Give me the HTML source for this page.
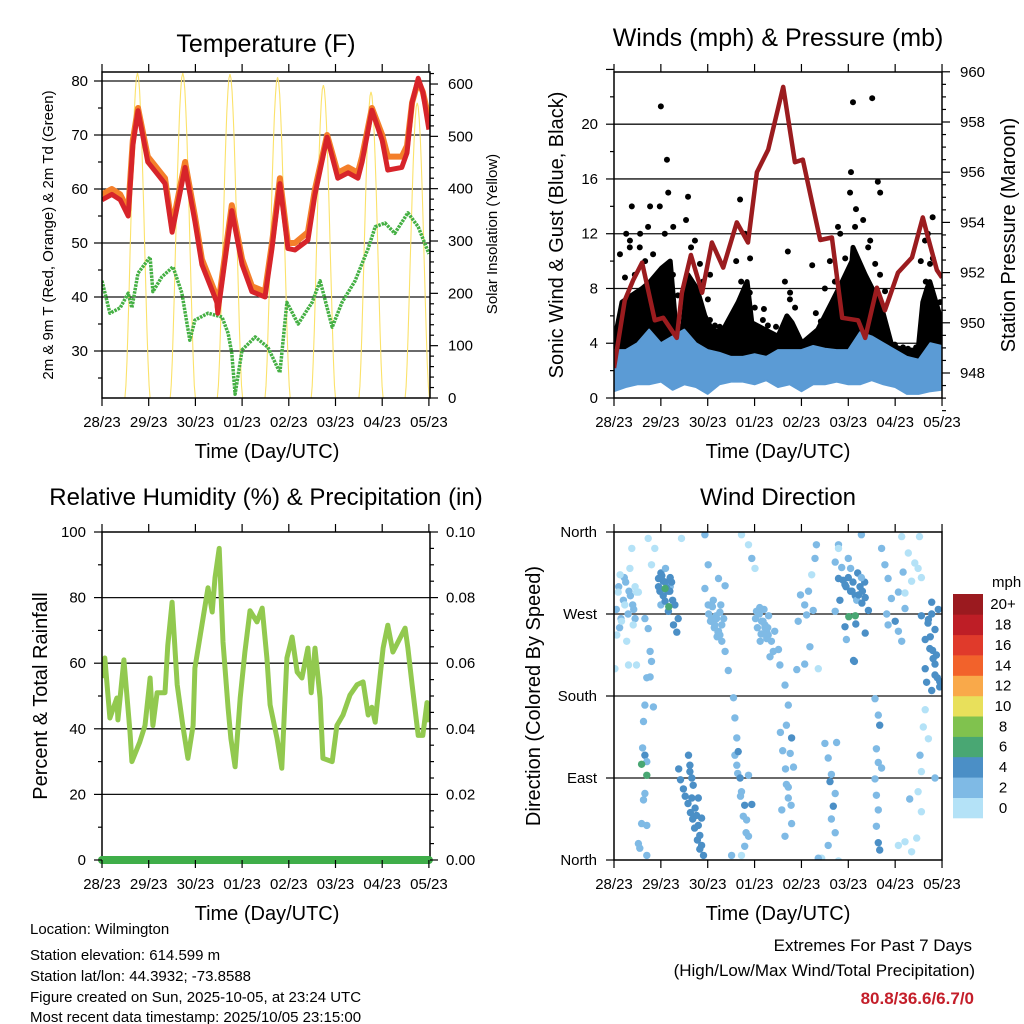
<!DOCTYPE html>
<html><head><meta charset="utf-8">
<style>
html,body{margin:0;padding:0;background:#fff}
svg{display:block;font-family:"Liberation Sans",sans-serif}
</style></head><body>
<svg id="chart" width="1024" height="1024" viewBox="0 0 1024 1024">
<defs>
<clipPath id="cp1"><rect x="102" y="72" width="328" height="326"/></clipPath>
<clipPath id="cp2"><rect x="614" y="72" width="328" height="326"/></clipPath>
<clipPath id="cp3"><rect x="102" y="532" width="328" height="328"/></clipPath>
<clipPath id="cp4"><rect x="614" y="532" width="328" height="328"/></clipPath>
</defs>
<g id="g1"></g>
<g id="g2"></g>
<g id="g3"></g>
<g id="g4"></g>

<text x="266" y="52" font-size="25" text-anchor="middle">Temperature (F)</text>
<text x="778" y="46" font-size="25" text-anchor="middle">Winds (mph) &amp; Pressure (mb)</text>
<text x="266" y="505" font-size="24" text-anchor="middle">Relative Humidity (%) &amp; Precipitation (in)</text>
<text x="778" y="505" font-size="24" text-anchor="middle">Wind Direction</text>

<text transform="translate(53,235) rotate(-90)" font-size="15" text-anchor="middle">2m &amp; 9m T (Red, Orange) &amp; 2m Td (Green)</text>
<text transform="translate(497,234) rotate(-90)" font-size="15" text-anchor="middle">Solar Insolation (Yellow)</text>
<text transform="translate(563,235) rotate(-90)" font-size="20" text-anchor="middle">Sonic Wind &amp; Gust (Blue, Black)</text>
<text transform="translate(1015,235) rotate(-90)" font-size="20" text-anchor="middle">Station Pressure (Maroon)</text>
<text transform="translate(47,696) rotate(-90)" font-size="20" text-anchor="middle">Percent &amp; Total Rainfall</text>
<text transform="translate(540,696) rotate(-90)" font-size="20" text-anchor="middle">Direction (Colored By Speed)</text>

<text x="267" y="458" font-size="20" text-anchor="middle">Time (Day/UTC)</text>
<text x="778" y="458" font-size="20" text-anchor="middle">Time (Day/UTC)</text>
<text x="267" y="920" font-size="20" text-anchor="middle">Time (Day/UTC)</text>
<text x="778" y="920" font-size="20" text-anchor="middle">Time (Day/UTC)</text>

<text x="992" y="587" font-size="15">mph</text>

<g font-size="15">
<text x="30" y="934">Location: Wilmington</text>
<text x="30" y="960">Station elevation: 614.599 m</text>
<text x="30" y="981">Station lat/lon: 44.3932; -73.8588</text>
<text x="30" y="1002">Figure created on Sun, 2025-10-05, at 23:24 UTC</text>
<text x="30" y="1022">Most recent data timestamp: 2025/10/05 23:15:00</text>
</g>
<g font-size="17" text-anchor="end">
<text x="972" y="951">Extremes For Past 7 Days</text>
<text x="975" y="976">(High/Low/Max Wind/Total Precipitation)</text>
<text x="974" y="1004" font-weight="bold" fill="#c41e2a">80.8/36.6/6.7/0</text>
</g>
</svg>
<script>
// ---------- DATA ----------
const dayLabels = ["28/23","29/23","30/23","01/23","02/23","03/23","04/23","05/23"];

const tempT = [0,0.21,0.39,0.56,0.66,0.77,0.98,1.35,1.50,1.78,1.99,2.14,2.46,2.48,2.78,3.00,3.21,3.49,3.64,3.81,3.98,4.13,4.41,4.56,4.82,5.05,5.27,5.48,5.57,5.78,6.00,6.12,6.42,6.53,6.64,6.77,6.87,7.00];
const tempRed = [58,59,58,55,68,74.5,65,61,52,64,54,46,39,37,56,46,41,40,49,61,49,48.7,50.5,59,69.6,62,63,62,65,74.6,69,63.5,64,66.7,76,80.5,78,71];
const tempOrange = [59,60,59,56,69,75,66,62,53,65,55,47,40,38,57,47,42,41,50,62,50,50,52,60,70,63,64,63,66,75,70,66,66,68,76,80,78,73];
const dewT = [0,0.17,0.39,0.56,0.64,0.77,1.03,1.09,1.28,1.52,1.71,1.88,1.99,2.27,2.57,2.70,2.78,2.85,3.00,3.28,3.55,3.81,3.96,4.20,4.50,4.67,4.93,5.14,5.42,5.70,5.85,6.06,6.27,6.55,6.77,7.00];
const dewPt = [43,37,38,40.7,38,44.4,47.4,41,43.7,45.6,40.7,32,35.7,37,36.3,33.3,29.6,22,30.2,32.6,30.7,26,39,35,39,43,34.4,39,43,49,53,53.7,51.8,55.6,53,48];
const solarPeakT = [0.76,1.73,2.74,3.76,4.74,5.76,6.75];
const solarPeak = [621,621,619,613,598,585,564];
const solarRise = [0.49,1.46,2.47,3.49,4.48,5.50,6.49];
const solarSet = [1.03,2.00,3.01,4.03,5.00,6.02,7.01];

const gustT = [0,0.17,0.38,0.60,0.77,1.02,1.20,1.30,1.45,1.58,1.77,1.94,2.09,2.30,2.65,2.84,2.94,3.22,3.50,3.69,3.80,4.01,4.35,4.65,4.87,5.08,5.10,5.36,5.51,5.72,5.93,6.21,6.49,6.59,6.68,6.74,7.00];
const gustHigh = [5.2,10.5,11,12,12.5,14,15,9,5.2,13,11.5,8.5,5.7,5.2,10,12,7.7,5.7,5.2,8.5,7.7,4.2,6.2,10,12,15,16.5,13,11.5,9,4,3.7,3.7,10,11.5,12,7];
const gustMid = [4.6,8.8,9,10,10.5,12,12.5,7.5,4.8,11,9.8,7.2,5.3,5,8.5,10.2,6.6,5.3,4.8,7.2,6.6,4.1,5.6,8.5,10.2,12.5,13.8,11,9.8,7.8,3.9,3.6,3.6,8.5,9.8,10.2,6.2];
const gustDense = [4,7,7.5,8,8.5,9.5,10,6,4.5,9,8,6,5,4.8,7,8.5,5.5,5,4.5,6,5.5,4,5,7,8.5,10,11,9,8,6.5,3.8,3.5,3.5,7,8,8.5,5.5];
const gustLow = [2.5,2.2,2.5,2.8,2.5,2.2,2.6,2.3,2.0,2.6,2.8,2.4,2.8,2.8,2.6,2.4,2.5,2.6,2.5,2.8,2.5,2.6,2.3,2.5,2.8,2.6,2.5,2.4,2.2,2.3,1.5,1.3,1.4,2.0,2.3,2.4,2.2];
const gustOutT = [1.00,5.10,5.51,0.38,1.58,3.71,4.23,5.63,5.68,2.69,0.34,0.77,4.78,0.26,1.13,2.05,3.20,4.50,6.80,0.55];
const gustOutV = [21.3,21.6,21.9,14,14.7,10.7,9.7,15.8,15,14.5,11.5,14,12.5,12,17.4,9,6.5,8,13.2,11];

const windT = [0,0.25,0.5,0.75,1,1.25,1.5,1.75,2,2.25,2.5,2.75,3,3.25,3.5,3.75,4,4.25,4.5,4.75,5,5.25,5.5,5.75,6,6.25,6.5,6.75,7];
const windHigh = [3.5,3.5,4,5,4,4.5,5,4,3.5,3.3,3,3,3.2,3,3.5,3.5,3.5,3.8,3.6,3.5,3.5,4.8,4.5,4,3.5,3,2.8,4,3.8];
const windLow = [0.5,0.8,1,1,1.2,0.6,1,0.8,0.3,1,1.2,1.2,1,1.3,0.8,1,0.5,1,1,1.2,1,1,1.3,1,0.8,0.3,0.3,0.5,0.6];

const presT = [0,0.23,0.41,0.60,0.87,1.05,1.34,1.45,1.64,1.88,2.09,2.33,2.62,2.86,3.05,3.29,3.61,3.86,4.03,4.40,4.65,4.87,5.21,5.36,5.61,5.78,6.06,6.36,6.59,6.70,6.89,7.00];
const presV = [948.2,950.9,951.7,952.4,950.1,950.2,949.4,951.2,952.7,951.2,953.2,952.2,954,953.2,956,956.9,959.4,956.4,956.5,953.3,953.4,950.2,950.1,949.4,951.4,950.5,952,952.6,954.2,953.4,952.1,951.8];

const rhT = [0,0.06,0.17,0.32,0.34,0.47,0.60,0.64,0.81,0.92,1.03,1.09,1.18,1.35,1.41,1.50,1.61,1.73,1.84,1.95,1.99,2.14,2.27,2.36,2.42,2.51,2.59,2.70,2.76,2.85,2.96,3.06,3.17,3.32,3.43,3.53,3.60,3.75,3.85,3.96,4.07,4.18,4.28,4.41,4.48,4.56,4.67,4.73,4.93,5.03,5.16,5.31,5.46,5.59,5.70,5.78,5.85,5.95,6.02,6.12,6.23,6.34,6.49,6.55,6.64,6.77,6.87,6.96,7.00];
const rhV = [55.5,61.6,43.3,49.4,42.7,61,39,30,36,41,55.5,41,51,51,65.5,78.6,53.4,41,31,41,58.5,71.6,83,75.6,86,95,66.5,46.3,37,28.4,49.4,63.4,76,72.6,76.8,61.6,47.3,37,28,61.6,68,57.3,55.5,64.6,51,64.6,49.4,31,30,41,44.2,50.3,53.4,54.3,44.2,46.6,42,55.5,64.6,71.6,63.4,66.5,70.7,64.6,53.4,38,38,48,42];
const precipT = [0,7];
const precipV = [0,0];

// wind direction points: time (days), direction (deg), speed (mph)
const dirT = [0.09,0.16,0.23,0.34,0.38,0.45,0.48,0.06,0.02,0.31,0.41,0.13,0.52,0.27,0.48,
0.95,1.05,1.12,1.19,1.09,1.02,1.23,1.30,1.16,1.37,1.34,1.27,0.98,1.17,1.09,
0.73,0.87,1.44,0.80,
0.66,0.73,0.77,0.80,0.70,0.77,0.66,0.84,0.63,0.61,0.66,0.70,0.59,0.70,0.66,0.63,0.59,0.70,0.52,0.55,0.70,
1.59,1.62,1.66,1.69,1.66,1.73,1.76,1.80,1.83,1.87,1.91,1.62,1.80,1.87,
1.94,2.01,2.08,2.15,2.23,2.30,2.37,2.08,2.26,2.19,2.44,2.01,1.94,2.23,2.37,
2.55,2.58,2.62,2.65,2.62,2.69,2.72,2.79,2.83,2.87,2.79,2.72,2.87,2.94,2.51,
2.72,2.87,2.94,3.01,
3.04,3.15,3.22,3.29,3.36,3.43,3.26,3.33,3.51,3.11,3.19,3.40,
3.54,3.65,3.72,3.68,3.79,3.76,3.83,3.68,3.72,3.58,3.79,3.65,
3.93,4.07,4.15,4.22,4.29,4.32,3.98,4.11,4.25,4.18,4.07,4.36,3.90,
4.50,4.57,4.64,4.61,4.72,4.68,4.64,4.72,4.57,4.43,4.36,4.79,4.75,
4.79,4.93,5.08,5.22,5.29,5.36,5.15,5.01,5.16,5.36,5.43,5.11,5.13,
4.79,4.86,4.89,4.82,4.72,4.93,4.96,
4.79,5.00,5.28,4.72,
5.57,5.64,5.67,5.60,5.64,5.57,5.60,5.64,5.60,5.64,5.67,5.71,
5.71,5.78,5.85,5.92,5.82,6.00,6.07,6.14,5.85,6.21,6.07,6.17,
6.14,6.28,6.42,6.49,6.35,6.56,6.21,6.52,
6.78,6.92,6.71,6.85,6.64,6.74,6.81,6.64,6.85,6.67,6.78,6.95,6.56,
6.64,6.60,6.71,6.53,6.56,6.49,6.56,6.31,6.21,6.35,6.46,6.85,6.07];
const dirD = [294,262,280,320,342,300,294,247,210,214,258,313,294,240,214,
309,306,299,295,284,312,305,280,273,265,250,258,295,278,298,
353,342,353,324,
265,254,229,218,200,201,170,168,152,123,115,108,105,93,73,66,40,38,18,13,5,
115,104,90,82,68,57,49,38,27,16,5,97,68,46,
298,280,265,258,251,240,229,280,247,265,208,324,357,309,301,
178,156,134,119,104,90,75,60,44,26,15,5,93,61,5,
357,346,331,320,
273,262,255,247,240,251,243,223,231,277,248,229,
214,192,170,148,134,117,102,83,68,55,40,26,
262,280,295,313,331,346,291,269,274,234,215,210,209,
128,112,94,86,73,59,45,30,16,2,2,-1,129,
309,302,295,291,282,288,268,267,259,249,274,219,218,
346,321,307,285,273,256,242,
342,331,357,327,
177,159,148,122,107,89,71,55,37,19,11,101,
342,324,309,287,270,262,251,240,258,276,294,316,
355,337,326,320,306,310,293,355,
283,275,264,253,242,232,221,210,203,195,186,196,268,
165,146,133,115,97,75,53,67,20,9,24,90,16];
const dirS = [1,1,1,1,1,1,1,1,1,1,1,1,1,1,1,
5,5,5,5,5,5,5,5,5,5,5,5,5,7,7,
1,1,1,1,
3,3,3,3,3,3,3,3,3,3,5,3,7,7,3,3,3,3,3,3,3,
5,5,5,5,5,5,5,5,5,5,5,5,5,5,
3,3,3,3,3,3,3,3,3,3,3,3,3,3,3,
3,3,3,5,3,5,3,5,3,3,3,1,3,5,3,
1,1,3,1,
3,3,3,3,3,3,3,3,3,3,3,3,
3,3,3,3,5,3,3,3,3,3,3,3,
3,3,3,1,3,3,3,3,3,3,3,1,3,
3,3,3,5,3,5,3,3,3,1,3,1,3,
5,5,5,5,5,5,7,7,5,5,5,5,5,
3,3,5,5,3,5,3,
1,3,3,3,
3,3,5,3,3,3,3,3,3,5,5,3,
3,3,3,3,3,5,3,3,3,3,3,3,
1,1,1,1,1,1,1,1,
5,5,5,5,5,5,5,5,5,5,5,5,5,
1,1,1,3,1,1,1,3,1,1,1,3,1];
// additional points in dense clusters
const dirT2 = [0.05,0.1,0.15,0.2,0.25,0.3,0.35,0.4,0.45,0.12,0.22,0.32,0.42,
0.95,1.0,1.05,1.1,1.15,1.2,1.25,1.0,1.1,1.2,
1.38,1.42,1.48,1.52,1.58,1.63,1.68,1.72,1.78,1.83,
2.02,2.06,2.1,2.14,2.18,2.22,2.26,2.3,2.34,2.12,2.2,2.28,
3.02,3.06,3.1,3.14,3.18,3.22,3.26,3.3,3.12,3.2,3.28,
4.95,5.0,5.05,5.1,5.15,5.2,5.25,5.3,5.35,5.05,5.18,5.28,
6.7,6.75,6.8,6.85,6.9,6.95,6.78,6.88,
2.58,2.64,2.7,2.76,2.82,
3.55,3.6,3.66,3.72,3.78];
const dirD2 = [275,300,265,285,305,270,290,280,265,255,310,295,275,
300,315,290,305,295,310,285,280,320,300,
100,88,78,70,62,52,45,35,22,12,
270,262,278,255,268,250,272,258,265,285,245,280,
265,255,270,248,262,258,250,268,240,275,255,
300,310,295,305,290,315,300,295,305,320,285,310,
260,245,230,215,200,190,270,225,
115,95,70,48,30,
140,120,100,80,60];
const dirS2 = [3,3,3,3,3,3,3,3,3,3,3,3,3,
5,5,5,5,5,5,5,3,3,3,
5,5,5,5,5,5,5,5,5,5,
3,3,3,3,3,3,3,3,3,3,3,3,
3,3,3,3,3,3,3,3,3,3,3,
5,5,5,5,5,5,5,5,5,3,3,3,
5,5,5,5,5,5,5,5,
3,3,3,3,3,
3,3,3,3,3];

const cbLabels = ["0","2","4","6","8","10","12","14","16","18","20+"];
const cbColors = ["#b4e2f7","#7fbae5","#4b8fc6","#49a773","#80c24e","#e8e05b","#f9a94a","#f2622b","#e03a2b","#be1e26","#9b1a1f"];

// ---------- AXES ----------
const xA = d => 102 + 46.7 * d;
const xB = d => 614 + 46.86 * d;
const yTemp = v => 351 - (v - 30) * 5.4;
const ySolar = v => 398 - v * 0.5233;
const yWind = v => 398 - v * 13.69;
const yPres = v => 373 - (v - 948) * 25.1;
const yRH = v => 860 - v * 3.28;
const yRain = v => 860 - v * 3280;
const yDir = v => 860 - v / 360 * 328;

const NS = 'http://www.w3.org/2000/svg';
function mk(tag, at, parent) {
  const e = document.createElementNS(NS, tag);
  for (const k in at) e.setAttribute(k, at[k]);
  parent.appendChild(e);
  return e;
}
function linePath(ts, vs, fx, fy) {
  return ts.map((t, i) => (i ? 'L' : 'M') + fx(t).toFixed(1) + ',' + fy(vs[i]).toFixed(1)).join('');
}
function bandPath(ts, hi, lo, fx, fy) {
  let s = ts.map((t, i) => (i ? 'L' : 'M') + fx(t).toFixed(1) + ',' + fy(hi[i]).toFixed(1)).join('');
  for (let i = ts.length - 1; i >= 0; i--) s += 'L' + fx(ts[i]).toFixed(1) + ',' + fy(lo[i]).toFixed(1);
  return s + 'Z';
}

function frame(g, x, y, w, h, name) {
  const r = mk('rect', {x: x, y: y, width: w, height: h, fill: 'none', stroke: '#000', 'stroke-width': 1.5}, g);
  
  
}
function gridLine(g, x1, x2, y) {
  const l = mk('line', {x1: x1, x2: x2, y1: y, y2: y, stroke: '#111', 'stroke-width': 1.3}, g);
  
  
}
function tickV(g, x, y, len, name) {
  const l = mk('line', {x1: x, x2: x + len, y1: y, y2: y, stroke: '#000', 'stroke-width': 1.2}, g);
  
  
}
function tickH(g, x, y, len) {
  const l = mk('line', {x1: x, x2: x, y1: y, y2: y + len, stroke: '#000', 'stroke-width': 1.2}, g);
  
  
}
function label(g, x, y, txt, anchor, size, name) {
  const t = mk('text', {x: x, y: y, 'font-size': size, 'text-anchor': anchor}, g);
  t.textContent = txt;
  
  
  return t;
}
function xAxis(g, fx, top, bottom) {
  dayLabels.forEach((lb, i) => {
    tickH(g, fx(i), bottom, 8);
    tickH(g, fx(i), top, -8);
    label(g, fx(i), bottom + 29, lb, 'middle', 15, 'x-tick-label');
  });
}

// ---------- PANEL 1: temperature ----------
(function () {
  const g = document.getElementById('g1');
  const inner = mk('g', {'clip-path': 'url(#cp1)'}, g);
  for (let v = 30; v <= 80; v += 10) gridLine(inner, 102, 430, yTemp(v));
  solarPeakT.forEach((pk, i) => {
    const pts = [];
    const n = 24;
    for (let k = 0; k <= n; k++) {
      const t = solarRise[i] + (solarSet[i] - solarRise[i]) * k / n;
      const s = Math.sin(Math.PI * k / n);
      pts.push((k ? 'L' : 'M') + xA(t).toFixed(1) + ',' + ySolar(solarPeak[i] * Math.pow(s, 1.6)).toFixed(1));
    }
    const p = mk('path', {d: pts.join(''), fill: 'none', stroke: '#fbe26a', 'stroke-width': 1.1}, inner);
    
    
  });
  const dew = mk('path', {d: linePath(dewT, dewPt, xA, yTemp), fill: 'none', stroke: '#45b044', 'stroke-width': 3.5, 'stroke-dasharray': '2.5 1', 'stroke-linejoin': 'round'}, inner);
  
  
  const or = mk('path', {d: linePath(tempT, tempOrange, xA, yTemp), fill: 'none', stroke: '#f47f2a', 'stroke-width': 6, 'stroke-linejoin': 'round'}, inner);
  
  
  const rd = mk('path', {d: linePath(tempT, tempRed, xA, yTemp), fill: 'none', stroke: '#d7242a', 'stroke-width': 5, 'stroke-linejoin': 'round'}, inner);
  
  
  frame(g, 102, 72, 328, 326, 'temperature-plot-frame');
  for (let v = 25; v <= 80; v += 5) tickV(g, 102, yTemp(v), v % 10 ? -4 : -8, 'y-tick');
  for (let v = 30; v <= 80; v += 10) label(g, 88, yTemp(v) + 5, String(v), 'end', 15, 'y-tick-label');
  for (let v = 0; v <= 620; v += 20) tickV(g, 430, ySolar(v), v % 100 ? 4 : 8, 'solar-tick');
  for (let v = 0; v <= 600; v += 100) label(g, 448, ySolar(v) + 5, String(v), 'start', 15, 'solar-tick-label');
  xAxis(g, xA, 72, 398);
})();

// ---------- PANEL 2: winds & pressure ----------
(function () {
  const g = document.getElementById('g2');
  const inner = mk('g', {'clip-path': 'url(#cp2)'}, g);
  for (let v = 4; v <= 20; v += 4) gridLine(inner, 614, 942, yWind(v));
  const gb = mk('path', {d: bandPath(gustT, gustDense, gustLow, xB, yWind), fill: '#000', stroke: '#000', 'stroke-width': 5, 'stroke-linejoin': 'round'}, inner);
  
  
  gustT.forEach((t, i) => {
    const c = mk('circle', {cx: xB(t) + 3, cy: yWind(gustMid[i]), r: 3, fill: '#000'}, inner);
    
    
    const c2 = mk('circle', {cx: xB(t) - 2, cy: yWind(gustHigh[i]), r: 3, fill: '#000'}, inner);
    
    
  });
  gustOutT.forEach((t, i) => {
    const c = mk('circle', {cx: xB(t), cy: yWind(gustOutV[i]), r: 3, fill: '#000'}, inner);
    
    
  });
  const wb = mk('path', {d: bandPath(windT, windHigh, windLow, xB, yWind), fill: '#5b9bd5', stroke: '#5b9bd5', 'stroke-width': 2, 'stroke-linejoin': 'round'}, inner);
  
  
  const pr = mk('path', {d: linePath(presT, presV, xB, yPres), fill: 'none', stroke: '#9b1c1f', 'stroke-width': 4.5, 'stroke-linejoin': 'round'}, inner);
  
  
  frame(g, 614, 72, 328, 326, 'winds-plot-frame');
  for (let v = 0; v <= 24; v += 2) tickV(g, 614, yWind(v), v % 4 ? -4 : -8, 'y-tick');
  for (let v = 0; v <= 20; v += 4) label(g, 598, yWind(v) + 5, String(v), 'end', 15, 'y-tick-label');
  for (let v = 946.5; v <= 960.01; v += 0.5) tickV(g, 942, yPres(v), (v % 2) ? 4 : 8, 'pressure-tick');
  for (let v = 948; v <= 960; v += 2) label(g, 960, yPres(v) + 5, String(v), 'start', 15, 'pressure-tick-label');
  xAxis(g, xB, 72, 398);
})();

// ---------- PANEL 3: humidity & precipitation ----------
(function () {
  const g = document.getElementById('g3');
  const inner = mk('g', {'clip-path': 'url(#cp3)'}, g);
  for (let v = 20; v <= 80; v += 20) gridLine(inner, 102, 430, yRH(v));
  const rh = mk('path', {d: linePath(rhT, rhV, xA, yRH), fill: 'none', stroke: '#92c94f', 'stroke-width': 5, 'stroke-linejoin': 'round'}, inner);
  
  
  frame(g, 102, 532, 328, 328, 'humidity-plot-frame');
  const pc = mk('path', {d: linePath(precipT, precipV, xA, yRain), fill: 'none', stroke: '#3fae49', 'stroke-width': 8, 'stroke-linecap': 'round'}, g);
  
  
  for (let v = 0; v <= 100; v += 10) tickV(g, 102, yRH(v), v % 20 ? -4 : -8, 'y-tick');
  for (let v = 0; v <= 100; v += 20) label(g, 86, yRH(v) + 5, String(v), 'end', 15, 'y-tick-label');
  for (let v = 0; v <= 0.1001; v += 0.005) tickV(g, 430, yRain(v), Math.round(v * 1000) % 20 ? 4 : 8, 'rain-tick');
  for (let v = 0; v <= 0.1001; v += 0.02) label(g, 446, yRain(v) + 5, v.toFixed(2), 'start', 15, 'rain-tick-label');
  xAxis(g, xA, 532, 860);
})();

// ---------- PANEL 4: wind direction ----------
(function () {
  const g = document.getElementById('g4');
  const inner = mk('g', {'clip-path': 'url(#cp4)'}, g);
  for (let v = 90; v <= 270; v += 90) gridLine(inner, 614, 942, yDir(v));
  function drawPts(ts, ds, ss) {
    ts.forEach((t, i) => {
      const bin = Math.min(10, Math.floor(ss[i] / 2));
      const c = mk('circle', {cx: xB(t).toFixed(1), cy: yDir(ds[i]).toFixed(1), r: 3.7, fill: cbColors[bin]}, inner);
      
      
    });
  }
  drawPts(dirT2, dirD2, dirS2);
  drawPts(dirT, dirD, dirS);
  frame(g, 614, 532, 328, 328, 'direction-plot-frame');
  const dirNames = ["North", "East", "South", "West", "North"];
  dirNames.forEach((nm, i) => {
    tickV(g, 614, yDir(i * 90), -8, 'y-tick');
    label(g, 597, yDir(i * 90) + 5, nm, 'end', 15, 'direction-tick-label');
  });
  xAxis(g, xB, 532, 860);
  const bh = 224 / cbColors.length;
  cbColors.forEach((col, i) => {
    const y = 818 - (i + 1) * bh;
    const r = mk('rect', {x: 953, y: y.toFixed(1), width: 30, height: (bh + 0.3).toFixed(1), fill: col}, g);
    
    
    label(g, 1003, y + bh / 2 + 5, cbLabels[i], 'middle', 15, 'colorbar-label');
  });
})();
</script>
</body></html>
